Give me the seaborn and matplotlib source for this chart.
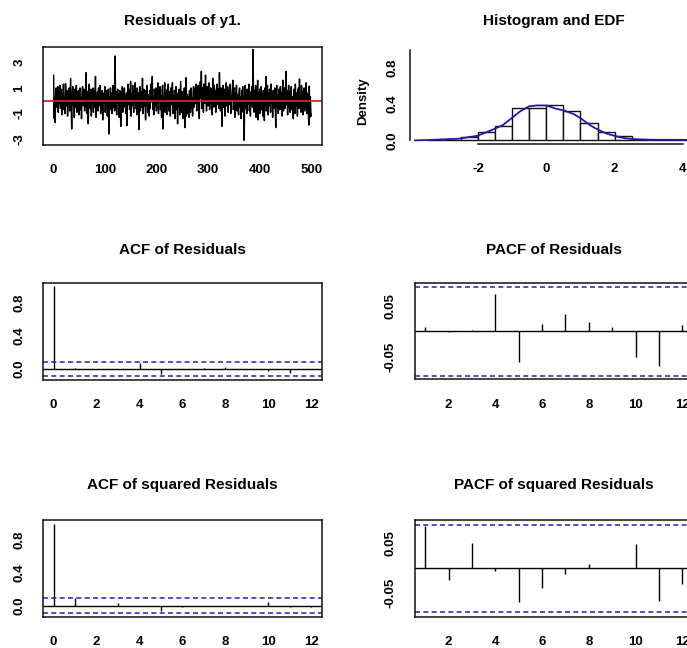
import matplotlib
matplotlib.use("Agg")
import matplotlib.pyplot as plt
import numpy as np
import pandas as pd
import seaborn as sns

# ---------------- data ----------------
residuals = [
    2.0, -1.4, 0.3, -1.7, 0.8, 1.0, -0.5, 0.2, 1.1, -0.9, 0.4, -0.2, 1.2, -0.6, 0.1, 0.9, -1.1, 0.5, -0.3, 1.3,
    -0.7, 0.2, -1.0, 1.35, 0.6, -0.4, 0.8, -1.2, 0.3, 0.0, 1.0, -0.8, 0.5, 1.75, -0.6, -2.2, 0.4, 1.1, -0.3, 0.7,
    -1.3, 0.9, 0.1, -0.5, 1.2, -0.9, 0.6, -0.2, 0.8, -1.1, 0.3, 1.0, -0.7, 0.2, -1.4, 0.6, 1.1, -0.4, 0.0, 0.9,
    -0.8, 0.5, -0.3, 2.2, -1.0, 0.4, 0.7, -1.8, 0.2, 1.3, -0.6, 0.1, 0.9, -1.2, 0.6, -0.1, 1.0, -0.9, 0.3, 0.8,
    -0.5, 1.9, -1.3, 0.4, 0.0, 0.7, -0.8, 1.0, -0.4, 0.5, 1.2, -1.0, 0.3, -0.6, 0.8, -1.5, 0.2, 0.6, -0.2, 1.1,
    -0.9, 0.4, -0.1, 0.8, -1.2, 0.5, 0.9, -2.6, 0.3, -0.7, 1.0, -0.4, 0.6, -1.0, 0.2, 1.2, -0.5, 0.1, -0.8, 3.5,
    -0.6, 0.7, -1.1, 0.3, 0.9, -0.2, 0.5, -1.3, 0.8, 0.0, -2.0, 0.6, -0.4, 1.1, -0.9, 0.2, 0.7, 1.0, -0.5, 0.3,
    -1.0, 0.6, -1.95, 0.4, 1.3, -0.3, 0.9, -0.7, 0.1, 1.5, -1.2, 0.5, -0.4, 1.2, 0.2, -0.9, 0.8, -0.1, 1.4, -0.6,
    0.3, -1.1, 1.0, -0.2, 0.6, -2.25, 0.4, 1.1, -0.8, 0.0, 0.7, -0.5, 1.75, -1.0, 0.3, 0.9, -0.4, 0.2, -1.5, 0.8,
    -0.3, 1.2, -0.9, 0.5, 0.1, -1.2, 0.8, -0.6, 1.3, -0.1, 0.4, 1.9, -0.7, 0.2, -1.1, 0.9, 0.5, -0.4, 1.0, -0.8,
    0.3, -0.2, 1.4, -1.0, 0.6, 0.0, 1.1, -0.7, 0.4, -1.3, 0.8, 1.2, -2.2, 0.2, -0.5, 1.4, -0.9, 0.6, 0.1, -1.1,
    0.9, -0.4, 1.3, -0.8, 0.2, 0.7, -1.2, 1.0, -0.3, 0.5, 1.4, -1.0, 0.3, -0.6, 0.8, -1.4, 0.4, 1.1, -0.7, 0.0,
    -1.8, 0.6, -0.5, 0.9, -1.1, 0.2, 1.5, -0.9, -0.3, 0.7, -1.4, 0.4, -0.8, 1.0, -2.1, -0.6, 1.8, -1.2, -0.2, 0.5,
    -1.0, 0.3, -1.3, 0.8, -0.4, -0.9, 1.0, -0.6, 0.2, -1.2, 0.6, 1.1, -0.5, 0.9, -0.2, 0.4, 1.3, -0.8, 0.7, 0.1,
    1.2, -0.3, -1.4, 0.8, 1.5, 0.2, 2.3, -0.6, 1.0, 0.4, -0.9, 1.3, 0.6, -0.2, 2.0, 0.3, -0.8, 1.1, 0.5, -0.4,
    0.9, 1.4, -0.7, 0.3, 1.0, -0.2, 0.7, -1.1, 1.75, 0.4, -0.5, 1.2, 0.1, 0.8, -0.9, 0.6, 1.3, -0.3, 0.5, 0.9,
    -0.6, 2.2, 0.4, -0.8, 1.0, -0.1, -2.0, 0.7, 1.2, -0.5, 0.3, 0.9, -1.2, 0.6, 1.4, -0.4, 0.2, 1.1, -0.9, 0.5,
    0.8, -0.3, 1.3, -1.0, 0.4, 0.0, 0.9, 1.6, -0.7, 0.3, 1.0, -1.3, 0.6, -0.2, 1.2, -0.8, 0.5, 0.1, -1.1, 0.7,
    1.0, -0.5, 0.3, -1.4, 0.8, -0.2, 1.1, -0.9, 0.4, -3.1, 0.6, 1.2, -0.6, 0.2, -1.0, 0.9, -0.3, 0.5, 1.3, -0.8,
    0.4, -1.2, 0.7, 0.0, 1.1, -0.5, 4.0, 0.3, -0.9, 0.8, -0.4, 1.2, -1.3, 0.5, 0.1, 1.6, -1.5, 0.6, -0.2, 0.9,
    -1.0, 0.3, 1.1, -0.7, 0.5, -1.2, 0.8, 0.2, -1.55, 1.0, -0.3, 1.9, -0.8, 0.4, 1.2, -1.1, 0.6, -0.4, 0.9, 0.1,
    -0.9, 1.3, -0.2, 0.6, -1.3, 0.8, 0.3, -0.6, 1.0, -0.1, -2.1, 0.7, 1.2, -0.5, 0.4, -1.0, 0.9, 0.2, -0.7, 1.1,
    -0.4, 0.6, -1.2, 0.9, 1.6, -0.8, 0.3, 1.0, -0.6, 0.5, 2.3, -0.3, 0.8, -1.1, 0.2, 1.2, -0.5, 0.7, -0.9, 0.4,
    1.1, -0.7, 0.3, -0.2, -1.4, 0.9, 0.5, -1.0, 1.3, -0.4, 0.6, 0.0, -1.2, 0.8, 1.0, -0.6, 1.7, -0.3, 0.4, -0.9,
    1.2, -0.5, 0.7, -1.1, 0.2, 1.0, -0.8, 0.5, -0.2, 1.4, -1.0, 0.6, 0.1, -0.7, -1.9, 1.15, -1.3, 0.3, -0.9, -1.2,
]
time_index = list(range(1, len(residuals) + 1))

hist_edges = [-3.5, -3.0, -2.5, -2.0, -1.5, -1.0, -0.5, 0.0, 0.5, 1.0, 1.5, 2.0, 2.5, 3.0, 3.5, 4.0, 4.5]
hist_density = [0.004, 0.0, 0.032, 0.096, 0.16, 0.36, 0.356, 0.388, 0.32, 0.19, 0.096, 0.044, 0.004, 0.004, 0.0, 0.004]

dens_x = [-3.86, -3.52, -2.59, -2.02, -1.53, -1.27, -1.02, -0.77, -0.51, -0.29, 0.0, 0.27, 0.51, 0.80,
          1.0, 1.29, 1.5, 1.78, 2.0, 2.27, 2.51, 3.05, 4.4]
dens_y = [0.0, 0.003, 0.018, 0.05, 0.125, 0.17, 0.245, 0.32, 0.375, 0.385, 0.385, 0.35, 0.33, 0.29,
          0.245, 0.165, 0.12, 0.073, 0.05, 0.026, 0.015, 0.007, 0.005]

acf_lags = list(range(0, 13))
acf_resid = [1.0, 0.008, 0.0, 0.003, 0.07, -0.06, 0.0, 0.012, 0.018, 0.0, -0.03, -0.055, 0.0]
acf_sq = [1.0, 0.09, 0.0, 0.03, 0.0, -0.065, -0.022, 0.0, 0.0, 0.0, 0.048, -0.02, -0.02]

pacf_lags = list(range(1, 13))
pacf_resid = [0.009, -0.001, 0.003, 0.074, -0.061, 0.015, 0.034, 0.018, 0.0086, -0.05, -0.068, 0.012]
pacf_sq = [0.085, -0.023, 0.05, -0.005, -0.067, -0.04, -0.012, 0.009, 0.0, 0.048, -0.066, -0.031]

conf_limit = 0.0877

titles = ["Residuals of y1.", "Histogram and EDF", "ACF of Residuals", "PACF of Residuals",
          "ACF of squared Residuals", "PACF of squared Residuals"]

# ---------------- styling ----------------
sns.set_style("white")
plt.rcParams["font.family"] = ["Liberation Sans", "DejaVu Sans"]
plt.rcParams["font.weight"] = "bold"
plt.rcParams["axes.unicode_minus"] = False
for k in ("text.color", "axes.labelcolor", "xtick.color", "ytick.color"):
    plt.rcParams[k] = "black"

W, H = 687, 648
fig = plt.figure(figsize=(W / 100, H / 100), dpi=100)


def pos(l, t, r, b):
    return [l / W, 1 - b / H, (r - l) / W, (b - t) / H]


TICK_FS = 9.5
TITLE_FS = 11
FRAME = "#111111"
BLUE_DASH = "#3434b4"


def style_box(ax, ypad=9):
    for s in ax.spines.values():
        s.set_visible(True)
        s.set_color(FRAME)
        s.set_linewidth(1.1)
    ax.tick_params(axis="both", direction="out", length=4, width=1, color=FRAME,
                   labelsize=TICK_FS, labelcolor="black")
    ax.tick_params(axis="x", pad=10)
    ax.tick_params(axis="y", pad=ypad)
    for lab in ax.get_yticklabels():
        lab.set_rotation(90)
        lab.set_va("center")
    ax.set_xlabel("")
    ax.set_ylabel("")
    ax.grid(False)


def title(txt, xc, ybase):
    fig.text(xc / W, 1 - ybase / H, txt, ha="center", va="baseline",
             fontsize=TITLE_FS, fontweight="bold", color="black")


# ---- 1. residual series ----
ax1 = fig.add_axes(pos(43.3, 47, 321.7, 145))
df_res = pd.DataFrame({"t": time_index, "r": residuals})
sns.lineplot(data=df_res, x="t", y="r", ax=ax1, color="black", linewidth=1.05,
             estimator=None, sort=False)
ax1.axhline(0, color="#d02828", linewidth=1.3)
ax1.set_xlim(-19, 520)
ax1.set_ylim(-3.46, 4.2)
ax1.set_xticks([0, 100, 200, 300, 400, 500])
ax1.set_yticks([-3, -2, -1, 0, 1, 2, 3, 4])
ax1.set_yticklabels(["-3", "", "-1", "", "1", "", "3", ""])
style_box(ax1)

# ---- 2. histogram + density ----
ax2 = fig.add_axes(pos(410, 46, 693, 144))
centers = [(a + b) / 2 for a, b in zip(hist_edges[:-1], hist_edges[1:])]
sns.histplot(x=centers, weights=hist_density, bins=hist_edges, stat="count",
             ax=ax2, color="white", edgecolor="#111111", linewidth=1.0, alpha=1)
sns.lineplot(x=dens_x, y=dens_y, ax=ax2, color="#1c1ca0", linewidth=1.3,
             estimator=None, sort=False)
ax2.set_xlim(-4.0, 4.3)
ax2.set_ylim(-0.04, 1.04)
ax2.set_xticks([-2, 0, 2, 4])
ax2.set_yticks([0, 0.2, 0.4, 0.6, 0.8, 1.0])
ax2.set_yticklabels(["0.0", "", "0.4", "", "0.8", ""])
style_box(ax2, ypad=4)
ax2.spines["top"].set_visible(False)
ax2.spines["right"].set_visible(False)
ax2.spines["left"].set_bounds(0, 1.0)
ax2.spines["bottom"].set_bounds(-2, 4)
fig.text(363 / W, 1 - 101 / H, "Density", rotation=90, ha="center", va="center",
         fontsize=TICK_FS, fontweight="bold", color="black")


def acf_panel(rect, lags, vals, xlim, ylim, yticks, ylabels, xticks):
    ax = fig.add_axes(rect)
    ax.vlines(lags, 0, vals, color="black", linewidth=1.0)
    ax.axhline(0, color="black", linewidth=1.0)
    for c in (conf_limit, -conf_limit):
        ax.axhline(c, color=BLUE_DASH, linewidth=1.2, linestyle=(0, (3, 2)))
    ax.set_xlim(*xlim)
    ax.set_ylim(*ylim)
    ax.set_xticks(xticks)
    ax.set_yticks(yticks)
    ax.set_yticklabels(ylabels)
    style_box(ax)
    return ax


acf_yt = [0, 0.2, 0.4, 0.6, 0.8, 1.0]
acf_yl = ["0.0", "", "0.4", "", "0.8", ""]
pacf_yt = [-0.05, 0.0, 0.05]
pacf_yl = ["-0.05", "", "0.05"]

acf_panel(pos(43.3, 282.7, 321.7, 380), acf_lags, acf_resid, (-0.48, 12.48), (-0.135, 1.045),
          acf_yt, acf_yl, [0, 2, 4, 6, 8, 10, 12])
acf_panel(pos(415, 283.3, 692.6, 379.3), pacf_lags, pacf_resid, (0.56, 12.44), (-0.0947, 0.0947),
          pacf_yt, pacf_yl, [2, 4, 6, 8, 10, 12])
acf_panel(pos(43.3, 520, 321.7, 616.7), acf_lags, acf_sq, (-0.48, 12.48), (-0.135, 1.045),
          acf_yt, acf_yl, [0, 2, 4, 6, 8, 10, 12])
acf_panel(pos(415, 520, 692.6, 616.7), pacf_lags, pacf_sq, (0.56, 12.44), (-0.0967, 0.0967),
          pacf_yt, pacf_yl, [2, 4, 6, 8, 10, 12])

title(titles[0], 182.5, 24.5)
title(titles[1], 554, 24.5)
title(titles[2], 182.5, 254.5)
title(titles[3], 554, 254.5)
title(titles[4], 182.5, 488.5)
title(titles[5], 554, 488.5)

fig.savefig("out.png", dpi=100)
